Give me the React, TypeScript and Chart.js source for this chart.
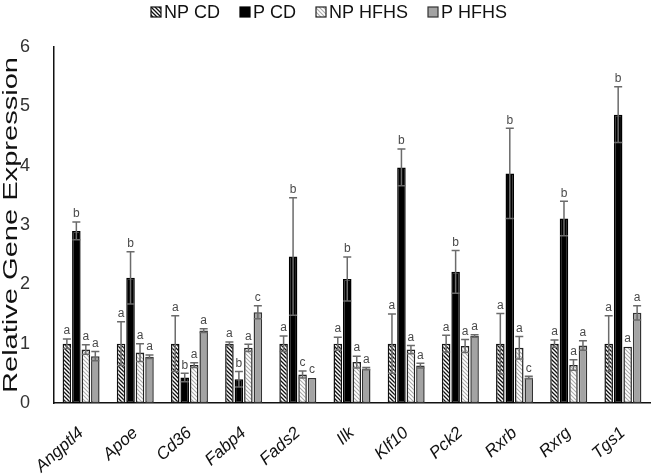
import React, { useEffect, useRef } from "react";
import { Chart, registerables } from "chart.js";

Chart.register(...registerables);

const categories = ["Angptl4", "Apoe", "Cd36", "Fabp4", "Fads2", "Ilk", "Klf10", "Pck2", "Rxrb", "Rxrg", "Tgs1"];
const seriesNames = ["NP CD", "P CD", "NP HFHS", "P HFHS"];
const yTitle = "Relative Gene Expression";

const npCD = [1, 1, 1, 1, 1, 1, 1, 1, 1, 1, 1];
const npCDErr = [0.08, 0.37, 0.47, 0.03, 0.13, 0.11, 0.5, 0.14, 0.51, 0.06, 0.47];
const pCD = [2.9, 2.11, 0.43, 0.4, 2.47, 2.09, 3.97, 2.21, 3.87, 3.11, 4.86];
const pCDErr = [0.15, 0.44, 0.07, 0.13, 0.99, 0.37, 0.31, 0.36, 0.76, 0.29, 0.47];
const npHFHS = [0.9, 0.85, 0.64, 0.93, 0.48, 0.69, 0.9, 0.96, 0.93, 0.64, 0.95];
const npHFHSErr = [0.08, 0.15, 0.04, 0.06, 0.06, 0.1, 0.07, 0.11, 0.19, 0.09, 0];
const pHFHS = [0.79, 0.78, 1.22, 1.53, 0.42, 0.58, 0.63, 1.13, 0.43, 0.97, 1.52];
const pHFHSErr = [0.08, 0.03, 0.03, 0.11, 0, 0.02, 0.04, 0.02, 0.02, 0.08, 0.12];

const npCDLetters = ["a", "a", "a", "a", "a", "a", "a", "a", "a", "a", "a"];
const pCDLetters = ["b", "b", "b", "b", "b", "b", "b", "b", "b", "b", "b"];
const npHFHSLetters = ["a", "a", "a", "a", "c", "a", "a", "a", "a", "a", "a"];
const pHFHSLetters = ["a", "a", "a", "c", "c", "a", "a", "a", "c", "a", "a"];

const yTicks = [0, 1, 2, 3, 4, 5, 6];

const FONT = "'Liberation Sans', Arial, sans-serif";

function makeHatch(bg: string, line: string, lw: number): CanvasPattern | string {
  const size = 4;
  const c = document.createElement("canvas");
  c.width = size;
  c.height = size;
  const ctx = c.getContext("2d");
  if (!ctx) return bg;
  ctx.fillStyle = bg;
  ctx.fillRect(0, 0, size, size);
  ctx.strokeStyle = line;
  ctx.lineWidth = lw;
  ctx.beginPath();
  ctx.moveTo(-1, -1);
  ctx.lineTo(size + 1, size + 1);
  ctx.moveTo(size - 1, -1);
  ctx.lineTo(size + 1, 1);
  ctx.moveTo(-1, size - 1);
  ctx.lineTo(1, size + 1);
  ctx.stroke();
  const p = ctx.createPattern(c, "repeat");
  return p || bg;
}

export default function App() {
  const ref = useRef<HTMLCanvasElement | null>(null);

  useEffect(() => {
    document.body.style.margin = "0";
    const canvas = ref.current;
    if (!canvas) return;

    const npCDFill = makeHatch("#ffffff", "#111111", 1.3);
    const npHFHSFill = makeHatch("#ffffff", "#aaaaaa", 1.1);
    const fills = [npCDFill, "#000000", npHFHSFill, "#a3a3a3"];
    const borders = ["#111111", "#000000", "#222222", "#333333"];
    const values = [npCD, pCD, npHFHS, pHFHS];
    const errs = [npCDErr, pCDErr, npHFHSErr, pHFHSErr];
    const letters = [npCDLetters, pCDLetters, npHFHSLetters, pHFHSLetters];

    const errorPlugin = {
      id: "errbars",
      afterDatasetsDraw(chart: any) {
        const ctx = chart.ctx;
        const yScale = chart.scales.y;
        ctx.save();
        chart.data.datasets.forEach((ds: any, di: number) => {
          const meta = chart.getDatasetMeta(di);
          meta.data.forEach((bar: any, i: number) => {
            const v = values[di][i];
            const e = errs[di][i];
            const x = bar.x;
            const half = 4;
            let topY = yScale.getPixelForValue(v);
            if (e > 0) {
              const yHi = yScale.getPixelForValue(v + e);
              const yLo = yScale.getPixelForValue(v - e);
              ctx.strokeStyle = "#6b6b6b";
              ctx.lineWidth = 1.5;
              ctx.beginPath();
              ctx.moveTo(x, yHi);
              ctx.lineTo(x, yLo);
              ctx.moveTo(x - half, yHi);
              ctx.lineTo(x + half, yHi);
              ctx.moveTo(x - half, yLo);
              ctx.lineTo(x + half, yLo);
              ctx.stroke();
              topY = yHi;
            }
            ctx.fillStyle = "#4a4a4a";
            ctx.font = "12px " + FONT;
            ctx.textAlign = "center";
            ctx.textBaseline = "bottom";
            ctx.fillText(letters[di][i], x, topY - 2);
          });
        });
        ctx.restore();
      },
    };

    const legendPlugin = {
      id: "customLegend",
      afterDraw(chart: any) {
        const ctx = chart.ctx;
        ctx.save();
        ctx.font = "18px " + FONT;
        const box = 10;
        const gapText = 3;
        const gapItem = 20;
        const widths = seriesNames.map((n) => box + gapText + ctx.measureText(n).width);
        const total = widths.reduce((a, b) => a + b, 0) + gapItem * (seriesNames.length - 1);
        let x = chart.width / 2 - total / 2 + 3;
        const cy = 12;
        seriesNames.forEach((n, i) => {
          ctx.fillStyle = fills[i] as any;
          ctx.fillRect(x, cy - box / 2, box, box);
          ctx.strokeStyle = borders[i];
          ctx.lineWidth = 1.2;
          ctx.strokeRect(x, cy - box / 2, box, box);
          ctx.fillStyle = "#111111";
          ctx.textAlign = "left";
          ctx.textBaseline = "middle";
          ctx.fillText(n, x + box + gapText, cy + 1);
          x += widths[i] + gapItem;
        });

        // y axis title (stretched along its length as in the reference)
        const area = chart.chartArea;
        const cyT = (area.top + area.bottom) / 2;
        ctx.font = "20px " + FONT;
        const w = ctx.measureText(yTitle).width;
        const targetLen = 336;
        ctx.translate(11, cyT);
        ctx.rotate(-Math.PI / 2);
        ctx.scale(targetLen / w, 1);
        ctx.textAlign = "center";
        ctx.textBaseline = "middle";
        ctx.fillStyle = "#111111";
        ctx.fillText(yTitle, 0, 0);
        ctx.restore();
      },
    };

    const chart = new Chart(canvas, {
      type: "bar",
      data: {
        labels: categories,
        datasets: seriesNames.map((name, i) => ({
          label: name,
          data: values[i],
          backgroundColor: fills[i] as any,
          borderColor: borders[i],
          borderWidth: 1.5,
          borderSkipped: false,
          barPercentage: 0.9,
          categoryPercentage: 0.7,
        })),
      },
      options: {
        animation: false,
        responsive: false,
        maintainAspectRatio: false,
        layout: { padding: { top: 47, right: 2, left: 2, bottom: 0 } },
        plugins: {
          legend: { display: false },
          tooltip: { enabled: false },
        },
        scales: {
          x: {
            grid: { display: false },
            border: { display: true, color: "#111111", width: 1.5 },
            ticks: {
              color: "#111111",
              font: { family: FONT, size: 17, style: "italic" },
              minRotation: 42,
              maxRotation: 42,
              autoSkip: false,
              padding: 12,
            },
            afterFit: (s: any) => {
              s.height = 71;
            },
          },
          y: {
            min: 0,
            max: 6,
            grid: { display: false },
            border: { display: true, color: "#111111", width: 1.5 },
            ticks: {
              stepSize: 1,
              color: "#333333",
              font: { family: FONT, size: 18 },
              padding: 16,
              callback: (v: any) => (yTicks.includes(Number(v)) ? String(v) : ""),
            },
            afterFit: (s: any) => {
              s.width = 52;
            },
          },
        },
      },
      plugins: [errorPlugin, legendPlugin],
    });

    return () => chart.destroy();
  }, []);

  return (
    <div style={{ width: 652, height: 474 }}>
      <canvas ref={ref} width={652} height={474} style={{ display: "block" }} />
    </div>
  );
}
